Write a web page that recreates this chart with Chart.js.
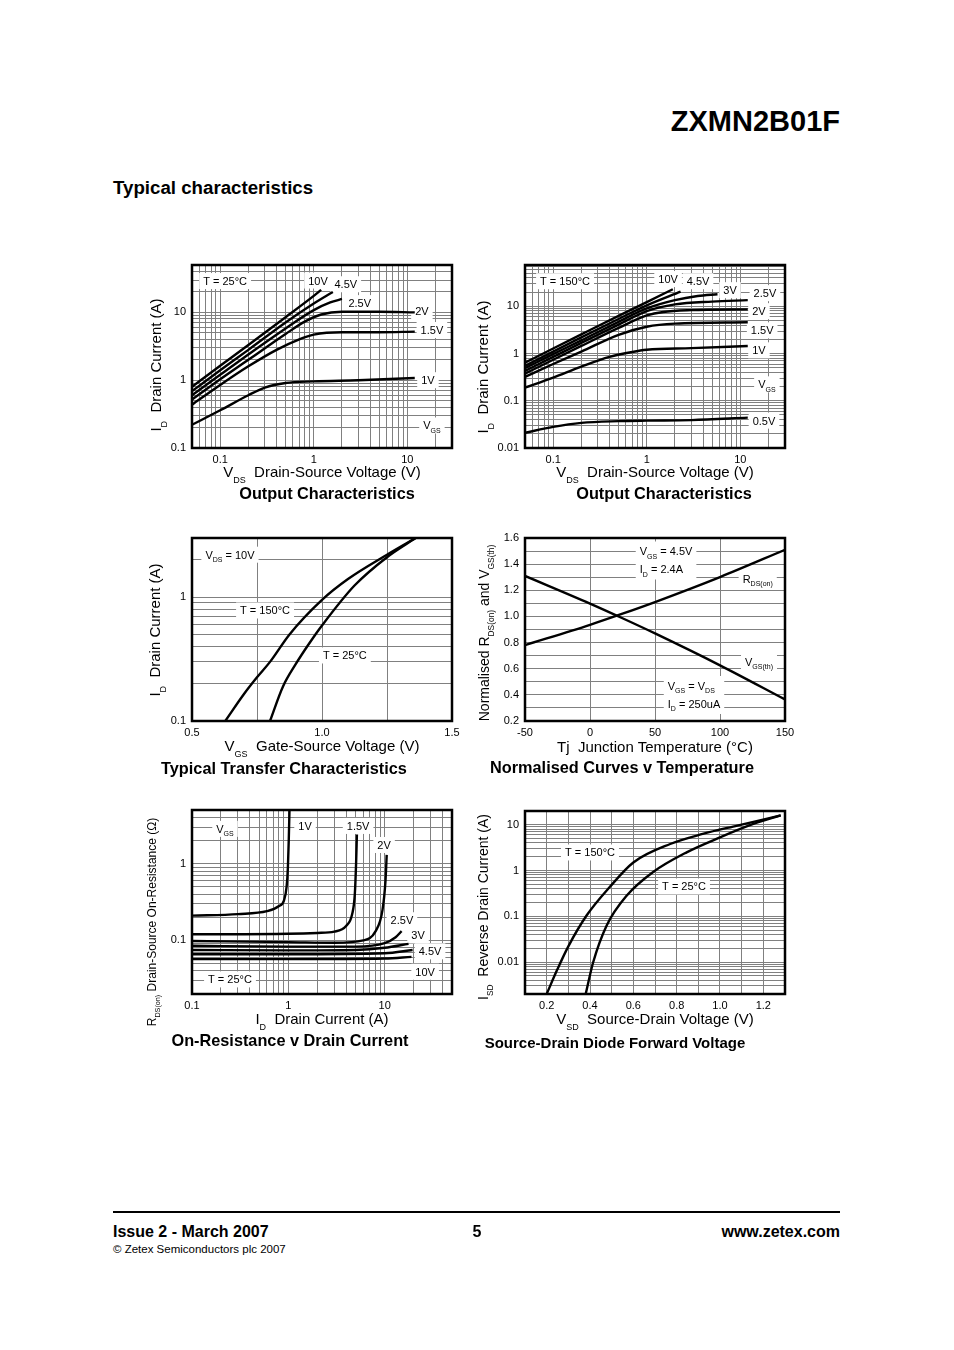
<!DOCTYPE html>
<html>
<head>
<meta charset="utf-8">
<script src="https://cdn.jsdelivr.net/npm/chart.js@4.4.1/dist/chart.umd.min.js"></script>
<style>
  html, body { margin: 0; padding: 0; background: #fff; }
  body { width: 954px; height: 1350px; position: relative; overflow: hidden;
         font-family: "Liberation Sans", Arial, Helvetica, sans-serif; color: #000; }
  .t { position: absolute; white-space: nowrap; line-height: 1; }
  .c { transform: translate(-50%, -50%); }
  .r { transform: translate(-50%, -50%) rotate(-90deg); }
  .cap { font-weight: bold; font-size: 16.3px; }
  .xt { font-size: 15px; }
  sub { font-size: 0.6em; vertical-align: -0.6em; line-height: 0; }
  canvas { position: absolute; }
</style>
</head>
<body>
<div class="t" style="right:114px; top:107px; font-size:29px; font-weight:bold;">ZXMN2B01F</div>
<div class="t" style="left:113px; top:179px; font-size:18.7px; font-weight:bold;">Typical characteristics</div>

<canvas id="out25" width="321" height="211" style="left:147px; top:257px;"></canvas>
<canvas id="out150" width="321" height="211" style="left:480px; top:257px;"></canvas>
<canvas id="transfer" width="321" height="211" style="left:147px; top:530px;"></canvas>
<canvas id="temp" width="321" height="211" style="left:480px; top:530px;"></canvas>
<canvas id="rds" width="321" height="212" style="left:147px; top:802px;"></canvas>
<canvas id="diode" width="321" height="211" style="left:480px; top:803px;"></canvas>

<!-- axis titles and captions -->
<div class="t r xt" style="left:156px; top:365px;">I<sub>D</sub>&nbsp; Drain Current (A)</div>
<div class="t c xt" style="left:322px; top:472px;">V<sub>DS</sub>&nbsp; Drain-Source Voltage (V)</div>
<div class="t c cap" style="left:327px; top:493px;">Output Characteristics</div>

<div class="t r xt" style="left:483px; top:367px;">I<sub>D</sub>&nbsp; Drain Current (A)</div>
<div class="t c xt" style="left:655px; top:472px;">V<sub>DS</sub>&nbsp; Drain-Source Voltage (V)</div>
<div class="t c cap" style="left:664px; top:493px;">Output Characteristics</div>

<div class="t r xt" style="left:155px; top:630px;">I<sub>D</sub>&nbsp; Drain Current (A)</div>
<div class="t c xt" style="left:322px; top:746px;">V<sub>GS</sub>&nbsp; Gate-Source Voltage (V)</div>
<div class="t c cap" style="left:284px; top:768px;">Typical Transfer Characteristics</div>

<div class="t r" style="left:484px; top:633px; font-size:14px;">Normalised R<sub>DS(on)</sub> and V<sub>GS(th)</sub></div>
<div class="t c xt" style="left:655px; top:746px;">Tj&nbsp; Junction Temperature (°C)</div>
<div class="t c cap" style="left:622px; top:767px;">Normalised Curves v Temperature</div>

<div class="t r" style="left:152px; top:922px; font-size:12px;">R<sub>DS(on)</sub> Drain-Source On-Resistance (Ω)</div>
<div class="t c xt" style="left:322px; top:1019px;">I<sub>D</sub>&nbsp; Drain Current (A)</div>
<div class="t c cap" style="left:290px; top:1040px;">On-Resistance v Drain Current</div>

<div class="t r" style="left:483px; top:907px; font-size:14px;">I<sub>SD</sub>&nbsp; Reverse Drain Current (A)</div>
<div class="t c xt" style="left:655px; top:1019px;">V<sub>SD</sub>&nbsp; Source-Drain Voltage (V)</div>
<div class="t c cap" style="left:615px; top:1042px; font-size:15px;">Source-Drain Diode Forward Voltage</div>

<!-- footer -->
<div style="position:absolute; left:113px; top:1211px; width:727px; height:2px; background:#000;"></div>
<div class="t" style="left:113px; top:1224px; font-size:16px; font-weight:bold;">Issue 2 - March 2007</div>
<div class="t c" style="left:477px; top:1232px; font-size:16px; font-weight:bold;">5</div>
<div class="t" style="right:114px; top:1224px; font-size:16px; font-weight:bold;">www.zetex.com</div>
<div class="t" style="left:113px; top:1244px; font-size:11.5px;">© Zetex Semiconductors plc 2007</div>

<script>
// ---- Output characteristics, T = 25°C (VDS in V -> ID in A)
const OUT25_10V_VDS = [0.05, 0.1, 0.2, 0.5, 1, 1.2]
const OUT25_10V_ID = [0.8, 1.63, 3.3, 8.5, 17.5, 21.5]
const OUT25_45V_VDS = [0.05, 0.1, 0.2, 0.5, 1, 1.6]
const OUT25_45V_ID = [0.69, 1.4, 2.8, 7.1, 13.5, 20]
const OUT25_25V_VDS = [0.05, 0.1, 0.2, 0.5, 1, 1.5, 2]
const OUT25_25V_ID = [0.6, 1.2, 2.4, 5.8, 10.8, 14, 15.8]
const OUT25_2V_VDS = [0.05, 0.1, 0.2, 0.5, 0.8, 1.2, 2, 5, 12]
const OUT25_2V_ID = [0.52, 1.03, 2.0, 4.8, 7.3, 9.3, 10.2, 10.2, 10]
const OUT25_15V_VDS = [0.05, 0.1, 0.2, 0.4, 0.7, 1, 2, 5, 12]
const OUT25_15V_ID = [0.435, 0.85, 1.6, 2.8, 4.0, 4.7, 5.1, 5.1, 5.2]
const OUT25_1V_VDS = [0.05, 0.1, 0.2, 0.3, 0.5, 1, 3, 12]
const OUT25_1V_ID = [0.22, 0.36, 0.6, 0.78, 0.91, 0.96, 1.0, 1.08]

// ---- Output characteristics, T = 150°C
const OUT150_10V_VDS = [0.05, 0.1, 0.2, 0.5, 1, 1.9]
const OUT150_10V_ID = [0.64, 1.28, 2.55, 6.3, 12.3, 23]
const OUT150_45V_VDS = [0.05, 0.1, 0.2, 0.5, 1, 2.3]
const OUT150_45V_ID = [0.55, 1.1, 2.2, 5.4, 10.5, 20.5]
const OUT150_3V_VDS = [0.05, 0.1, 0.2, 0.5, 1, 2, 3.5, 5.7]
const OUT150_3V_ID = [0.49, 0.97, 1.9, 4.7, 9, 13.5, 16.5, 18]
const OUT150_25V_VDS = [0.05, 0.1, 0.2, 0.5, 1, 2, 5, 12]
const OUT150_25V_ID = [0.43, 0.85, 1.68, 4.1, 7.9, 11, 12.6, 13.5]
const OUT150_2V_VDS = [0.05, 0.1, 0.2, 0.5, 1, 1.5, 3, 12]
const OUT150_2V_ID = [0.375, 0.74, 1.45, 3.5, 6.4, 7.6, 8.3, 8.6]
const OUT150_15V_VDS = [0.05, 0.1, 0.2, 0.5, 1, 2, 12]
const OUT150_15V_ID = [0.32, 0.6, 1.1, 2.5, 3.7, 4.3, 4.6]
const OUT150_1V_VDS = [0.05, 0.1, 0.2, 0.4, 0.7, 1, 3, 12]
const OUT150_1V_ID = [0.19, 0.31, 0.53, 0.85, 1.08, 1.2, 1.3, 1.45]
const OUT150_05V_VDS = [0.05, 0.1, 0.2, 0.5, 1, 3, 12]
const OUT150_05V_ID = [0.021, 0.028, 0.034, 0.037, 0.038, 0.039, 0.044]

// ---- Typical transfer characteristics, VDS = 10V (VGS in V -> ID in A)
const TR150_VGS = [0.628, 0.7, 0.75, 0.8, 0.875, 1.0, 1.1, 1.25, 1.36]
const TR150_ID = [0.1, 0.165, 0.225, 0.3, 0.5, 0.95, 1.4, 2.2, 3.0]
const TR25_VGS = [0.8, 0.85, 0.9, 0.95, 1.0, 1.125, 1.25, 1.36]
const TR25_ID = [0.1, 0.19, 0.29, 0.42, 0.59, 1.24, 2.1, 3.0]

// ---- Normalised curves v temperature
const TJ = [-50, 0, 25, 50, 100, 150]
const RDS_NORM = [0.78, 0.936, 1.021, 1.11, 1.301, 1.51]
const VTH_NORM = [1.31, 1.098, 0.986, 0.87, 0.626, 0.365]

// ---- On-resistance v drain current, T = 25°C (ID in A -> RDS(on) in ohm)
const RDS_1V_ID = [0.1, 0.3, 0.6, 0.8, 0.9, 0.96, 0.99, 1.01, 1.03]
const RDS_1V_R = [0.21, 0.22, 0.24, 0.28, 0.33, 0.5, 0.9, 2, 5.5]
const RDS_15V_ID = [0.1, 1, 2, 3, 4, 4.6, 4.9, 5.05, 5.15]
const RDS_15V_R = [0.12, 0.122, 0.125, 0.13, 0.155, 0.22, 0.4, 1, 2.4]
const RDS_2V_ID = [0.1, 1, 3, 6, 8, 9.5, 10.2, 10.5]
const RDS_2V_R = [0.098, 0.095, 0.093, 0.1, 0.13, 0.25, 0.6, 1.3]
const RDS_25V_ID = [0.1, 1, 5, 10, 13, 15]
const RDS_25V_R = [0.085, 0.083, 0.083, 0.092, 0.11, 0.132]
const RDS_3V_ID = [0.1, 1, 5, 10, 17.7]
const RDS_3V_R = [0.075, 0.074, 0.075, 0.08, 0.09]
const RDS_45V_ID = [0.1, 1, 10, 19.5]
const RDS_45V_R = [0.066, 0.066, 0.068, 0.075]
const RDS_10V_ID = [0.1, 1, 10, 19]
const RDS_10V_R = [0.057, 0.057, 0.058, 0.061]

// ---- Source-drain diode forward voltage (VSD in V -> ISD in A)
const DI150_VSD = [0.2, 0.25, 0.3, 0.385, 0.49, 0.6, 0.77, 0.92, 1.08, 1.28]
const DI150_ISD = [0.002, 0.007, 0.022, 0.105, 0.43, 1.5, 3.8, 6.3, 9.6, 16]
const DI25_VSD = [0.38, 0.415, 0.477, 0.57, 0.69, 0.846, 1.0, 1.154, 1.28]
const DI25_ISD = [0.002, 0.01, 0.063, 0.285, 0.92, 2.5, 5.3, 10.4, 16]

// ---- tick labels
const OUT_X_TICKS = [0.1, 1, 10]
const OUT25_Y_TICKS = [0.1, 1, 10]
const OUT150_Y_TICKS = [0.01, 0.1, 1, 10]
const TR_X_TICKS = [0.5, 1.0, 1.5]
const TR_Y_TICKS = [0.1, 1]
const TJ_TICKS = [-50, 0, 50, 100, 150]
const NORM_TICKS = [0.2, 0.4, 0.6, 0.8, 1.0, 1.2, 1.4, 1.6]
const RDS_X_TICKS = [0.1, 1, 10]
const RDS_Y_TICKS = [0.1, 1]
const VSD_TICKS = [0.2, 0.4, 0.6, 0.8, 1.0, 1.2]
const ISD_TICKS = [0.01, 0.1, 1, 10]

// ---- in-plot labels (placed in data units)
const NOTES_OUT25 = [
  { x: 0.113, y: 29, text: 'T = 25°C' },
  { x: 1.11, y: 29.5, text: '10V' },
  { x: 2.2, y: 26, text: '4.5V' },
  { x: 3.1, y: 13.7, text: '2.5V' },
  { x: 14.3, y: 10.4, text: '2V' },
  { x: 18.3, y: 5.5, text: '1.5V' },
  { x: 16.6, y: 1.0, text: '1V' },
  { x: 18.3, y: 0.215, text: 'V_{GS}' }
]
const NOTES_OUT150 = [
  { x: 0.134, y: 34, text: 'T = 150°C' },
  { x: 1.69, y: 37.8, text: '10V' },
  { x: 3.53, y: 34, text: '4.5V' },
  { x: 7.75, y: 22, text: '3V' },
  { x: 18.3, y: 19, text: '2.5V' },
  { x: 15.8, y: 7.9, text: '2V' },
  { x: 17.1, y: 3.1, text: '1.5V' },
  { x: 15.8, y: 1.17, text: '1V' },
  { x: 19.2, y: 0.223, text: 'V_{GS}' },
  { x: 17.9, y: 0.038, text: '0.5V' }
]
const NOTES_TR = [
  { x: 0.646, y: 2.2, text: 'V_{DS} = 10V' },
  { x: 0.781, y: 0.78, text: 'T = 150°C' },
  { x: 1.088, y: 0.338, text: 'T = 25°C' }
]
const NOTES_TEMP = [
  { x: 58.5, y: 1.428, text: 'V_{GS} = 4.5V\nI_{D} = 2.4A' },
  { x: 129, y: 1.29, text: 'R_{DS(on)}' },
  { x: 130, y: 0.655, text: 'V_{GS(th)}' },
  { x: 80, y: 0.399, text: 'V_{GS} = V_{DS}\nI_{D} = 250uA' }
]
const NOTES_RDS = [
  { x: 0.22, y: 2.84, text: 'V_{GS}' },
  { x: 1.49, y: 3.1, text: '1V' },
  { x: 5.3, y: 3.1, text: '1.5V' },
  { x: 9.86, y: 1.75, text: '2V' },
  { x: 15.1, y: 0.183, text: '2.5V' },
  { x: 22.2, y: 0.116, text: '3V' },
  { x: 29.6, y: 0.072, text: '4.5V' },
  { x: 26.3, y: 0.039, text: '10V' },
  { x: 0.248, y: 0.031, text: 'T = 25°C' }
]
const NOTES_DIODE = [
  { x: 0.4, y: 2.48, text: 'T = 150°C' },
  { x: 0.834, y: 0.448, text: 'T = 25°C' }
]

const GRID = '#808080'
const FAMILY = "'Liberation Sans', Arial, Helvetica, sans-serif"
const NOTE_FONT = '11px ' + FAMILY
const SUB_FONT = '7px ' + FAMILY

function pts(xs, ys) {
  return xs.map((x, i) => ({ x, y: ys[i] }))
}

function near(v, list) {
  return list.some(t => Math.abs(v - t) < 1e-6 * Math.max(1, Math.abs(t)) + 1e-9)
}

// 1..9 x 10^n grid lines inside [min, max]
function logTicks(min, max) {
  const out = []
  for (let e = Math.floor(Math.log10(min)); e <= Math.ceil(Math.log10(max)); e++) {
    for (let m = 1; m < 10; m++) {
      const v = +(m * Math.pow(10, e)).toPrecision(6)
      if (v >= min * 0.999 && v <= max * 1.001) out.push({ value: v })
    }
  }
  return out
}

function axis(pos, type, min, max, shown, fmt, step) {
  const cfg = {
    type, position: pos, min, max,
    grid: { color: GRID, lineWidth: 1, drawTicks: false },
    border: { display: false },
    ticks: {
      autoSkip: false, maxRotation: 0, color: '#000',
      font: { family: FAMILY, size: 11 },
      padding: pos === 'left' ? 6 : 5,
      callback: v => near(v, shown) ? fmt(v) : ''
    },
    // fixed axis boxes so the plot areas land where the reference has them
    afterFit: sc => {
      if (pos === 'left') sc.width = 45
      else sc.height = 20
      sc.paddingTop = 0
      sc.paddingBottom = 0
      sc.paddingLeft = 0
      sc.paddingRight = 0
    }
  }
  if (type === 'logarithmic') cfg.afterBuildTicks = sc => { sc.ticks = logTicks(min, max) }
  if (step) cfg.ticks.stepSize = step
  return cfg
}

function pieces(str) {
  return str.split(/(_\{[^}]*\})/).filter(Boolean).map(p =>
    p.startsWith('_{') ? { t: p.slice(2, -1), sub: true } : { t: p, sub: false })
}

function richWidth(ctx, str) {
  let w = 0
  for (const p of pieces(str)) {
    ctx.font = p.sub ? SUB_FONT : NOTE_FONT
    w += ctx.measureText(p.t).width
  }
  return w
}

function drawRich(ctx, str, x, y) {
  for (const p of pieces(str)) {
    ctx.font = p.sub ? SUB_FONT : NOTE_FONT
    ctx.fillText(p.t, x, p.sub ? y + 3.5 : y)
    x += ctx.measureText(p.t).width
  }
}

const notesPlugin = {
  id: 'notes',
  beforeDatasetsDraw(chart, args, opts) {
    const ctx = chart.ctx
    const xs = chart.scales.x, ys = chart.scales.y
    ctx.save()
    ctx.textBaseline = 'alphabetic'
    for (const n of opts.items || []) {
      const lines = n.text.split('\n')
      const w = Math.max(...lines.map(l => richWidth(ctx, l)))
      const lh = lines.length > 1 ? 18 : 14
      const h = lines.length * lh
      const cx = xs.getPixelForValue(n.x), cy = ys.getPixelForValue(n.y)
      ctx.fillStyle = '#fff'
      ctx.fillRect(cx - w / 2 - 4, cy - h / 2 - 1, w + 8, h + 2)
      ctx.fillStyle = '#000'
      lines.forEach((l, i) => drawRich(ctx, l, cx - w / 2, cy - h / 2 + i * lh + lh / 2 + 4))
    }
    ctx.restore()
  }
}

const framePlugin = {
  id: 'frame',
  afterDatasetsDraw(chart) {
    const a = chart.chartArea, ctx = chart.ctx
    ctx.save()
    ctx.strokeStyle = '#000'
    ctx.lineWidth = 2.5
    ctx.strokeRect(a.left, a.top, a.right - a.left, a.bottom - a.top)
    ctx.restore()
  }
}

function makeChart(id, series, xAxis, yAxis, notes) {
  return new Chart(document.getElementById(id), {
    type: 'line',
    data: {
      datasets: series.map(s => ({
        label: s.name,
        data: s.data,
        borderColor: '#000',
        borderWidth: 2.4,
        pointRadius: 0,
        fill: false,
        cubicInterpolationMode: 'monotone'
      }))
    },
    options: {
      responsive: false,
      animation: false,
      events: [],
      layout: { padding: { left: 0, top: 8, right: 16, bottom: 0 } },
      plugins: { legend: { display: false }, tooltip: { enabled: false }, notes: { items: notes } },
      scales: { x: xAxis, y: yAxis }
    },
    plugins: [notesPlugin, framePlugin]
  })
}

const plain = v => String(v)
const oneDp = v => v.toFixed(1)

makeChart('out25', [
  { name: '10V', data: pts(OUT25_10V_VDS, OUT25_10V_ID) },
  { name: '4.5V', data: pts(OUT25_45V_VDS, OUT25_45V_ID) },
  { name: '2.5V', data: pts(OUT25_25V_VDS, OUT25_25V_ID) },
  { name: '2V', data: pts(OUT25_2V_VDS, OUT25_2V_ID) },
  { name: '1.5V', data: pts(OUT25_15V_VDS, OUT25_15V_ID) },
  { name: '1V', data: pts(OUT25_1V_VDS, OUT25_1V_ID) }
], axis('bottom', 'logarithmic', 0.05, 30, OUT_X_TICKS, plain),
   axis('left', 'logarithmic', 0.1, 50, OUT25_Y_TICKS, plain), NOTES_OUT25)

makeChart('out150', [
  { name: '10V', data: pts(OUT150_10V_VDS, OUT150_10V_ID) },
  { name: '4.5V', data: pts(OUT150_45V_VDS, OUT150_45V_ID) },
  { name: '3V', data: pts(OUT150_3V_VDS, OUT150_3V_ID) },
  { name: '2.5V', data: pts(OUT150_25V_VDS, OUT150_25V_ID) },
  { name: '2V', data: pts(OUT150_2V_VDS, OUT150_2V_ID) },
  { name: '1.5V', data: pts(OUT150_15V_VDS, OUT150_15V_ID) },
  { name: '1V', data: pts(OUT150_1V_VDS, OUT150_1V_ID) },
  { name: '0.5V', data: pts(OUT150_05V_VDS, OUT150_05V_ID) }
], axis('bottom', 'logarithmic', 0.05, 30, OUT_X_TICKS, plain),
   axis('left', 'logarithmic', 0.01, 75, OUT150_Y_TICKS, plain), NOTES_OUT150)

makeChart('transfer', [
  { name: 'T = 150°C', data: pts(TR150_VGS, TR150_ID) },
  { name: 'T = 25°C', data: pts(TR25_VGS, TR25_ID) }
], axis('bottom', 'linear', 0.5, 1.5, TR_X_TICKS, oneDp, 0.25),
   axis('left', 'logarithmic', 0.1, 3, TR_Y_TICKS, plain), NOTES_TR)

makeChart('temp', [
  { name: 'RDS(on)', data: pts(TJ, RDS_NORM) },
  { name: 'VGS(th)', data: pts(TJ, VTH_NORM) }
], axis('bottom', 'linear', -50, 150, TJ_TICKS, plain, 50),
   axis('left', 'linear', 0.2, 1.6, NORM_TICKS, oneDp, 0.1), NOTES_TEMP)

makeChart('rds', [
  { name: '1V', data: pts(RDS_1V_ID, RDS_1V_R) },
  { name: '1.5V', data: pts(RDS_15V_ID, RDS_15V_R) },
  { name: '2V', data: pts(RDS_2V_ID, RDS_2V_R) },
  { name: '2.5V', data: pts(RDS_25V_ID, RDS_25V_R) },
  { name: '3V', data: pts(RDS_3V_ID, RDS_3V_R) },
  { name: '4.5V', data: pts(RDS_45V_ID, RDS_45V_R) },
  { name: '10V', data: pts(RDS_10V_ID, RDS_10V_R) }
], axis('bottom', 'logarithmic', 0.1, 50, RDS_X_TICKS, plain),
   axis('left', 'logarithmic', 0.02, 5, RDS_Y_TICKS, plain), NOTES_RDS)

makeChart('diode', [
  { name: 'T = 150°C', data: pts(DI150_VSD, DI150_ISD) },
  { name: 'T = 25°C', data: pts(DI25_VSD, DI25_ISD) }
], axis('bottom', 'linear', 0.1, 1.3, VSD_TICKS, oneDp, 0.1),
   axis('left', 'logarithmic', 0.002, 20, ISD_TICKS, plain), NOTES_DIODE)
</script>
</body>
</html>
